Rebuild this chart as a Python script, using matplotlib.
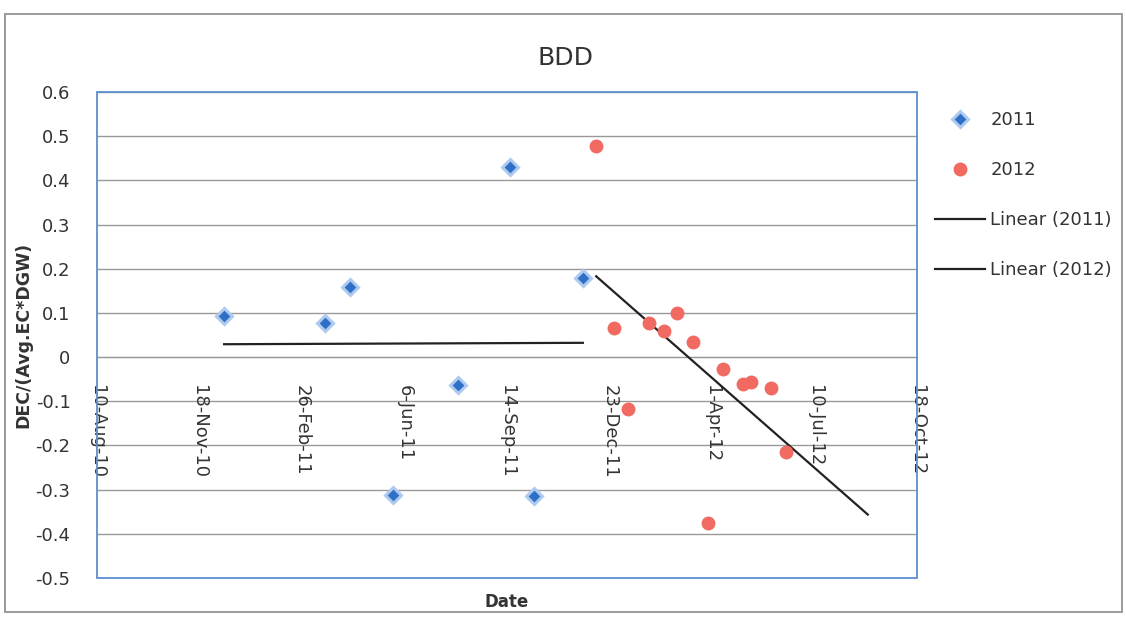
import datetime as dt

import matplotlib

matplotlib.use("Agg")
import matplotlib.dates as mdates
import matplotlib.pyplot as plt
import numpy as np
from matplotlib.patches import Rectangle

# --- data ---
dates_2011 = ["2010-12-12", "2011-03-20", "2011-04-14", "2011-05-26",
              "2011-07-28", "2011-09-17", "2011-10-10", "2011-11-27"]
vals_2011 = [0.094, 0.077, 0.158, -0.313, -0.064, 0.43, -0.315, 0.18]

dates_2012 = ["2011-12-10", "2011-12-27", "2012-01-10", "2012-01-31",
              "2012-02-14", "2012-02-27", "2012-03-13", "2012-03-28",
              "2012-04-12", "2012-05-01", "2012-05-09", "2012-05-29",
              "2012-06-12"]
vals_2012 = [0.478, 0.065, -0.117, 0.077, 0.058, 0.1, 0.034, -0.376,
             -0.026, -0.06, -0.057, -0.07, -0.215]

x_tick_labels = ["10-Aug-10", "18-Nov-10", "26-Feb-11", "6-Jun-11", "14-Sep-11",
                 "23-Dec-11", "1-Apr-12", "10-Jul-12", "18-Oct-12"]
y_ticks = [0.6, 0.5, 0.4, 0.3, 0.2, 0.1, 0, -0.1, -0.2, -0.3, -0.4, -0.5]
y_tick_labels = ["0.6", "0.5", "0.4", "0.3", "0.2", "0.1", "0",
                 "-0.1", "-0.2", "-0.3", "-0.4", "-0.5"]
forecast_2012_days = 80  # trendline forward forecast


def to_num(strs, fmt="%Y-%m-%d"):
    return np.array([mdates.date2num(dt.datetime.strptime(s, fmt)) for s in strs])


x11 = to_num(dates_2011)
x12 = to_num(dates_2012)
xt = to_num(x_tick_labels, "%d-%b-%y")

TEXT = "#333333"
W, H = 1126, 619
fig = plt.figure(figsize=(W / 100, H / 100), dpi=100)
ax = fig.add_axes([97 / W, 1 - 578 / H, 820 / W, 486 / H])

# outer chart-area border
fig.patches.append(Rectangle((5 / W, 1 - 612 / H), 1117 / W, 598 / H,
                             transform=fig.transFigure, fill=False,
                             edgecolor="#9a9a9a", lw=1.4))

# spine position first: moving it resets the tick labels
for side in ["top", "left", "right"]:
    ax.spines[side].set_visible(False)
ax.spines["bottom"].set_position(("data", 0))
ax.spines["bottom"].set_color("#999999")
ax.add_patch(Rectangle((0, 0), 1, 1, transform=ax.transAxes, fill=False,
                       edgecolor="#5b8fd0", lw=1.3, zorder=5, clip_on=False))

for y in y_ticks:
    ax.axhline(y, color="#999999", lw=1.0, zorder=1)

ax.plot(x11, vals_2011, ls="none", marker="D", ms=8, color="#2f6fc6",
        mec="#aecbef", mew=2.2, label="2011", zorder=4)
ax.plot(x12, vals_2012, ls="none", marker="o", ms=9, color="#f06a62",
        mec="#f06a62", label="2012", zorder=4)

# linear trendlines (Excel style)
k, b = np.polyfit(x11, vals_2011, 1)
tx = np.array([x11.min(), x11.max()])
ax.plot(tx, k * tx + b, color="#222222", lw=1.6, label="Linear (2011)", zorder=3)
k, b = np.polyfit(x12, vals_2012, 1)
tx = np.array([x12.min(), x12.max() + forecast_2012_days])
ax.plot(tx, k * tx + b, color="#222222", lw=1.6, label="Linear (2012)", zorder=3)

ax.set_xlim(xt[0], xt[-1])
ax.set_ylim(-0.5, 0.6)
ax.set_xticks(xt)
ax.set_xticklabels(x_tick_labels, rotation=270, fontsize=13, color=TEXT)
ax.set_yticks(y_ticks)
ax.set_yticklabels(y_tick_labels, fontsize=13, color=TEXT)
ax.tick_params(axis="x", length=0, pad=20)
ax.tick_params(axis="y", length=0, pad=19)

ax.set_ylabel("DEC/(Avg.EC*DGW)", fontsize=12.5, fontweight="bold", color=TEXT)
ax.yaxis.set_label_coords(-0.079, 0.5)
ax.set_xlabel("Date", fontsize=12, fontweight="bold", color=TEXT)
ax.xaxis.set_label_coords(0.5, -0.03)

fig.text(565 / W, 1 - 58 / H, "BDD", fontsize=18, color=TEXT,
         ha="center", va="center")

fig.legend(loc="upper left", bbox_to_anchor=(926 / W, 1 - 102 / H),
           frameon=False, fontsize=13, labelspacing=1.77, handlelength=2.77,
           handletextpad=0.3, borderpad=0, labelcolor=TEXT)

fig.savefig("out.png", dpi=100)
